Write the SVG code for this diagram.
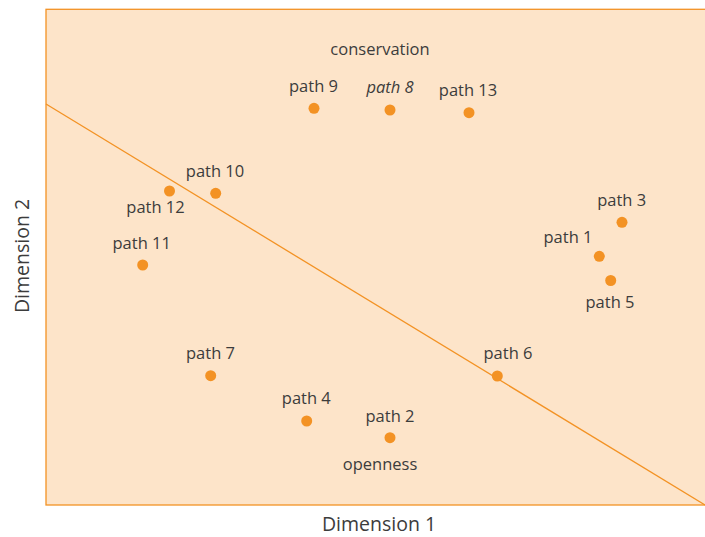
<svg xmlns="http://www.w3.org/2000/svg" width="705" height="537" viewBox="0 0 705 537">
<style>
.lbl{font-family:"Open Sans","Noto Sans","Liberation Sans",sans-serif;font-size:16.5px;fill:#3c3c3c;text-anchor:middle}
.ax{font-family:"Open Sans","Noto Sans","Liberation Sans",sans-serif;font-size:19.5px;fill:#3c3c3c;text-anchor:middle}
.dot{fill:#f39224}
</style>
<rect x="0" y="0" width="705" height="537" fill="#ffffff"/>
<g id="plot">
<rect x="46" y="9.3" width="662" height="495.7" fill="#fde4c9" stroke="#f39224" stroke-width="1.3"/>
</g>
<g id="connectors">
<line x1="46" y1="104" x2="705" y2="505" stroke="#f39224" stroke-width="1.3"/>
</g>
<g id="axis-labels">
<text class="ax" x="379" y="531">Dimension 1</text>
<text class="ax" transform="translate(29,256) rotate(-90)">Dimension 2</text>
</g>
<g id="region-labels">
<text class="lbl" x="380" y="55">conservation</text>
<text class="lbl" x="380" y="470">openness</text>
</g>
<g id="path9"><circle class="dot" cx="314" cy="108.3" r="5.5"/><text class="lbl" x="313.5" y="91.5">path 9</text></g>
<g id="path8"><circle class="dot" cx="390" cy="110" r="5.5"/><text class="lbl" x="390" y="92.7" font-style="italic">path 8</text></g>
<g id="path13"><circle class="dot" cx="469" cy="112.7" r="5.5"/><text class="lbl" x="468" y="96">path 13</text></g>
<g id="path10"><circle class="dot" cx="215.7" cy="193.3" r="5.5"/><text class="lbl" x="215" y="177">path 10</text></g>
<g id="path12"><circle class="dot" cx="169.5" cy="191" r="5.5"/><text class="lbl" x="155.5" y="213">path 12</text></g>
<g id="path11"><circle class="dot" cx="142.7" cy="265" r="5.5"/><text class="lbl" x="141.7" y="249">path 11</text></g>
<g id="path3"><circle class="dot" cx="622" cy="222.3" r="5.5"/><text class="lbl" x="621.7" y="205.7">path 3</text></g>
<g id="path1"><circle class="dot" cx="599.3" cy="256.3" r="5.5"/><text class="lbl" x="568" y="243.3">path 1</text></g>
<g id="path5"><circle class="dot" cx="610.7" cy="280.5" r="5.5"/><text class="lbl" x="610" y="308.3">path 5</text></g>
<g id="path6"><circle class="dot" cx="497.3" cy="376" r="5.5"/><text class="lbl" x="508" y="358.5">path 6</text></g>
<g id="path7"><circle class="dot" cx="210.7" cy="375.7" r="5.5"/><text class="lbl" x="210.5" y="359.3">path 7</text></g>
<g id="path4"><circle class="dot" cx="306.7" cy="421" r="5.5"/><text class="lbl" x="306.3" y="404">path 4</text></g>
<g id="path2"><circle class="dot" cx="390" cy="437.7" r="5.5"/><text class="lbl" x="390" y="421.7">path 2</text></g>
</svg>
